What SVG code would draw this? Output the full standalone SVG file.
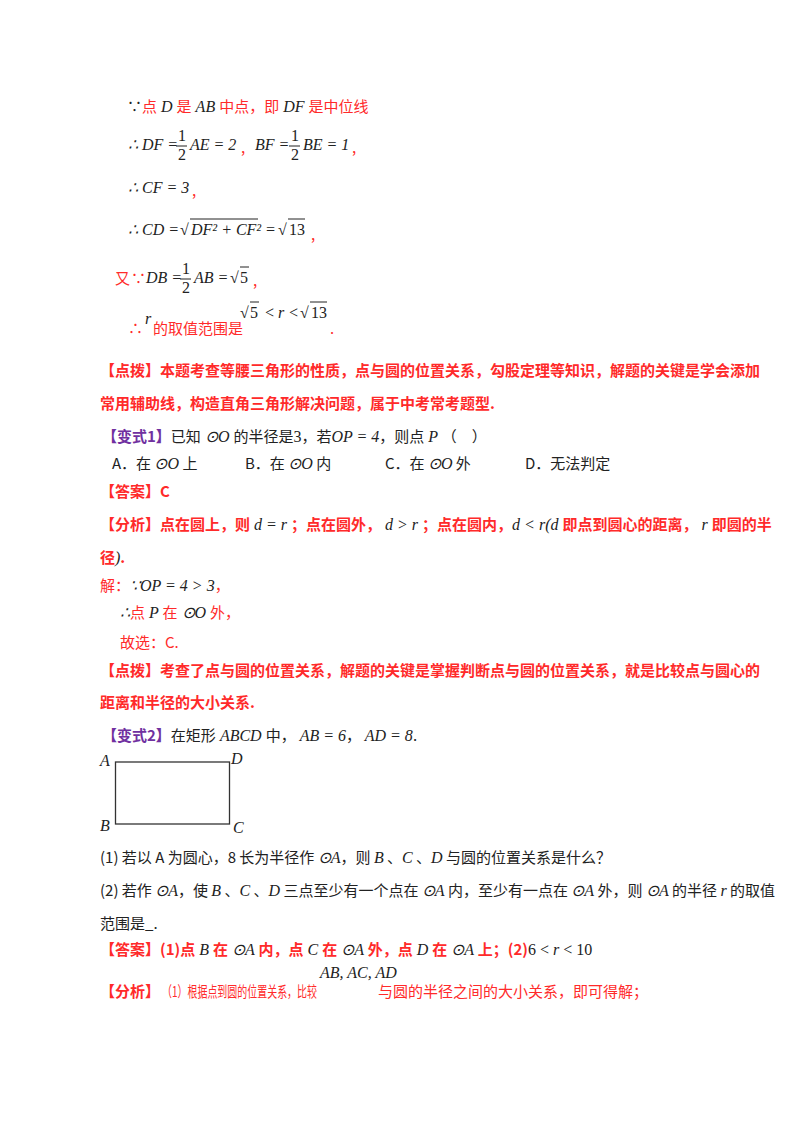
<svg xmlns="http://www.w3.org/2000/svg" width="800" height="1132" viewBox="0 0 800 1132">
<style>
text{font-family:"Noto Sans CJK SC","Liberation Sans",sans-serif;font-size:15px}
.r{fill:#ff2a2a}.k{fill:#222}.p{fill:#7030a0;font-weight:bold}.rb{fill:#ff2a2a;font-weight:bold}
.m{font-family:"Liberation Serif",serif;font-style:italic;font-size:16px;fill:#222}
.n{font-family:"Liberation Serif",serif;font-size:16px;fill:#222}
.ov{stroke:#222;stroke-width:1}
</style>
<rect width="800" height="1132" fill="#fff"/>
<g id="solution1">
<text x="127" y="112"><tspan class="k">∵</tspan><tspan class="r">点</tspan><tspan class="m"> D </tspan><tspan class="r">是</tspan><tspan class="m" font-size="13"> AB </tspan><tspan class="r">中点，即</tspan><tspan class="m" font-size="14"> DF </tspan><tspan class="r">是中位线</tspan></text>
<text x="128" y="150" class="m">∴ DF =</text><text x="178" y="141" class="n" font-size="14">1</text><line x1="176" y1="146" x2="187" y2="146" class="ov"/><text x="178" y="160" class="n" font-size="14">2</text>
<text x="190" y="150" class="m">AE = 2</text><text x="241" y="153" class="r">,</text>
<text x="255" y="150" class="m">BF =</text><text x="291" y="141" class="n" font-size="14">1</text><line x1="289" y1="146" x2="300" y2="146" class="ov"/><text x="291" y="160" class="n" font-size="14">2</text>
<text x="303" y="150" class="m">BE = 1</text><text x="352" y="153" class="r">,</text>
<text x="128" y="193" class="m">∴ CF = 3</text><text x="192" y="196" class="r">,</text>
<text x="128" y="235" class="m">∴ CD =</text><text x="180" y="235" class="n">√</text><line x1="190" y1="219" x2="258" y2="219" class="ov"/><text x="191" y="235" class="m">DF² + CF²</text>
<text x="265" y="235" class="m">=</text><text x="278" y="235" class="n">√</text><line x1="288" y1="219" x2="305" y2="219" class="ov"/><text x="289" y="235" class="n">13</text><text x="311" y="240" class="r">,</text>
<text x="115" y="284" class="r">又</text><text x="131" y="284" class="r">∵</text><text x="146" y="283" class="m">DB =</text><text x="182" y="274" class="n" font-size="14">1</text><line x1="180" y1="279" x2="191" y2="279" class="ov"/><text x="182" y="293" class="n" font-size="14">2</text><text x="194" y="283" class="m">AB =</text><text x="230" y="283" class="n">√</text><line x1="240" y1="267" x2="249" y2="267" class="ov"/><text x="240" y="283" class="n">5</text><text x="253" y="286" class="r">,</text>
<text x="128" y="334" class="r">∴</text><text x="145" y="324" class="m" font-size="13">r</text><text x="153" y="334" class="r">的取值范围是</text>
<text x="240" y="318" class="n">√</text><line x1="250" y1="302" x2="259" y2="302" class="ov"/><text x="250" y="318" class="n">5</text><text x="264" y="318" class="m">&lt;</text><text x="278" y="318" class="m">r</text><text x="288" y="318" class="m">&lt;</text><text x="300" y="318" class="n">√</text><line x1="310" y1="302" x2="327" y2="302" class="ov"/><text x="311" y="318" class="n">13</text><text x="330" y="334" class="r">.</text>
</g>
<g id="dianbo1">
<text x="100" y="376" class="rb">【点拨】本题考查等腰三角形的性质，点与圆的位置关系，勾股定理等知识，解题的关键是学会添加</text>
<text x="100" y="409" class="rb">常用辅助线，构造直角三角形解决问题，属于中考常考题型.</text>
</g>
<g id="bianshi1">
<text x="102" y="442"><tspan class="p">【变式1】</tspan><tspan class="k">已知</tspan><tspan class="m"> ⊙O </tspan><tspan class="k">的半径是</tspan><tspan class="n">3</tspan><tspan class="k">，若</tspan><tspan class="m">OP = 4</tspan><tspan class="k">，则点</tspan><tspan class="m"> P </tspan><tspan class="k">（　）</tspan></text>
<text x="112" y="469" class="k">A．在 <tspan class="m">⊙O</tspan> 上</text>
<text x="245" y="469" class="k">B．在 <tspan class="m">⊙O</tspan> 内</text>
<text x="385" y="469" class="k">C．在 <tspan class="m">⊙O</tspan> 外</text>
<text x="525" y="469" class="k">D．无法判定</text>
<text x="100" y="497" class="rb">【答案】C</text>
</g>
<g id="fenxi1">
<text x="100" y="530"><tspan class="rb">【分析】点在圆上，则</tspan><tspan class="m"> d = r </tspan><tspan class="rb">；点在圆外，</tspan><tspan class="m"> d &gt; r </tspan><tspan class="rb">；点在圆内，</tspan><tspan class="m">d &lt; r(d </tspan><tspan class="rb">即点到圆心的距离，</tspan><tspan class="m"> r </tspan><tspan class="rb">即圆的半</tspan></text>
<text x="100" y="563"><tspan class="rb">径</tspan><tspan class="m">)</tspan><tspan class="rb">.</tspan></text>
<text x="100" y="591"><tspan class="r">解：</tspan><tspan class="m" font-size="14">∵OP = 4 &gt; 3</tspan><tspan class="r">，</tspan></text>
<text x="120" y="618"><tspan class="m" font-size="14">∴</tspan><tspan class="r">点</tspan><tspan class="m" font-size="14"> P </tspan><tspan class="r">在</tspan><tspan class="m"> ⊙O </tspan><tspan class="r">外，</tspan></text>
<text x="120" y="648" class="r">故选：C.</text>
</g>
<g id="dianbo2">
<text x="100" y="676" class="rb">【点拨】考查了点与圆的位置关系，解题的关键是掌握判断点与圆的位置关系，就是比较点与圆心的</text>
<text x="100" y="708" class="rb">距离和半径的大小关系.</text>
</g>
<g id="bianshi2">
<text x="102" y="741"><tspan class="p">【变式2】</tspan><tspan class="k">在矩形</tspan><tspan class="m"> ABCD </tspan><tspan class="k">中，</tspan><tspan class="m"> AB = 6</tspan><tspan class="k">，</tspan><tspan class="m"> AD = 8</tspan><tspan class="k">.</tspan></text>
</g>
<g id="rectangle">
<rect x="115.5" y="762" width="114" height="62" fill="none" stroke="#333" stroke-width="1.3"/>
<text x="100" y="766" class="m">A</text><text x="231" y="764" class="m">D</text>
<text x="100" y="831" class="m">B</text><text x="233" y="833" class="m">C</text>
</g>
<g id="questions">
<text x="100" y="863" class="k">(1)  若以 A 为圆心，8 长为半径作 <tspan class="m">⊙A</tspan>，则 <tspan class="m" font-size="13">B</tspan> 、<tspan class="m">C</tspan> 、<tspan class="m">D</tspan> 与圆的位置关系是什么？</text>
<text x="100" y="896" class="k">(2)  若作 <tspan class="m">⊙A</tspan>，使 <tspan class="m" font-size="13">B</tspan> 、<tspan class="m">C</tspan> 、<tspan class="m">D</tspan> 三点至少有一个点在 <tspan class="m">⊙A</tspan> 内，至少有一点在 <tspan class="m">⊙A</tspan> 外，则 <tspan class="m">⊙A</tspan> 的半径 <tspan class="m">r</tspan> 的取值</text>
<text x="100" y="929" class="k">范围是_.</text>
<text x="100" y="955"><tspan class="rb">【答案】(1)点</tspan><tspan class="m" font-size="13"> B </tspan><tspan class="rb">在</tspan><tspan class="m"> ⊙A </tspan><tspan class="rb">内，点</tspan><tspan class="m"> C </tspan><tspan class="rb">在</tspan><tspan class="m"> ⊙A </tspan><tspan class="rb">外，点</tspan><tspan class="m"> D </tspan><tspan class="rb">在</tspan><tspan class="m"> ⊙A </tspan><tspan class="rb">上；(2)</tspan><tspan class="n">6 &lt; </tspan><tspan class="m">r</tspan><tspan class="n"> &lt; 10</tspan></text>
<text x="320" y="978" class="m">AB, AC, AD</text>
<text x="100" y="997" class="rb">【分析】</text>
<text x="162" y="997" class="r" textLength="155" lengthAdjust="spacingAndGlyphs">（1）根据点到圆的位置关系，比较</text>
<text x="378" y="997" class="r">与圆的半径之间的大小关系，即可得解；</text>
</g>
</svg>
